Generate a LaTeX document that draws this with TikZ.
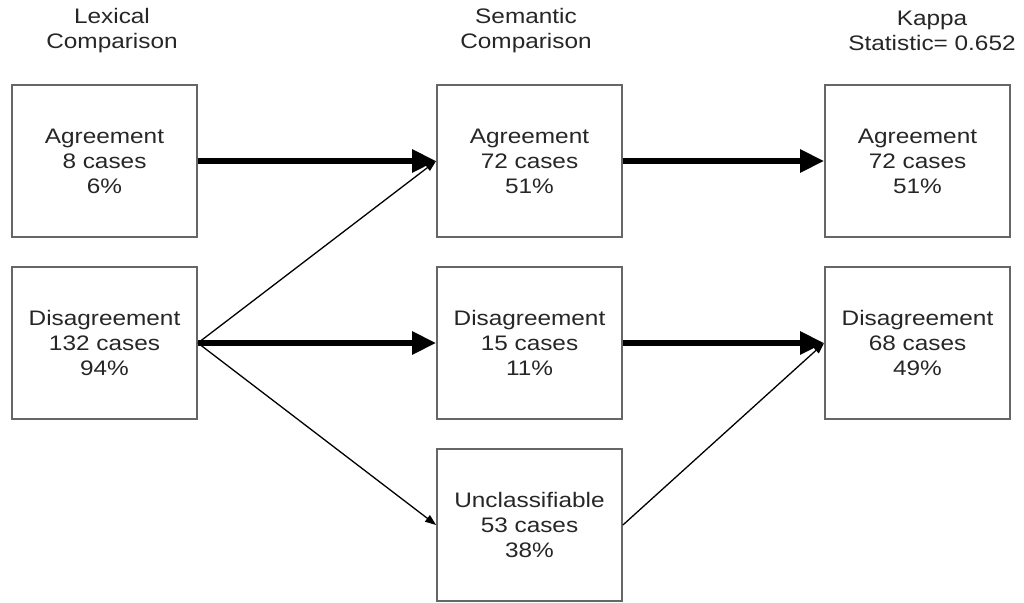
\documentclass[tikz,border=0pt]{standalone}
\usepackage{fontspec}
\setmainfont[FakeStretch=1.16]{Liberation Sans}
\usetikzlibrary{arrows.meta}
\begin{document}
\begin{tikzpicture}[x=1pt,y=-1pt,
  txt/.style={font=\fontsize{21}{25}\selectfont, text=black!85, align=center, inner sep=0pt},
  box/.style={txt, draw=black!60, line width=1.8pt, minimum width=185pt, minimum height=152pt},
  thick arrow/.style={line width=5.8pt, -{Triangle[length=24pt,width=22pt]}},
  thin arrow/.style={line width=1.3pt, -{Triangle[length=11pt,width=8pt]}},
  thin line/.style={line width=1.3pt}]
\useasboundingbox (0,0) rectangle (1024,602);
\node[txt] (h1) at (112,30.5) {Lexical\\Comparison};
\node[txt] (h2) at (526,30.5) {Semantic\\Comparison};
\node[txt] (h3) at (932,30.5) {Kappa\\Statistic= 0.652};
\node[box] (la) at (104.5,161) {Agreement\\8 cases\\6\%};
\node[box] (ld) at (104.5,343) {Disagreement\\132 cases\\94\%};
\node[box] (ma) at (529.5,161) {Agreement\\72 cases\\51\%};
\node[box] (md) at (529.5,343) {Disagreement\\15 cases\\11\%};
\node[box] (mu) at (529.5,525) {Unclassifiable\\53 cases\\38\%};
\node[box] (ra) at (917.5,161) {Agreement\\72 cases\\51\%};
\node[box] (rd) at (917.5,343) {Disagreement\\68 cases\\49\%};
\draw[thick arrow] (la.east) -- (ma.west);
\draw[thick arrow] (ld.east) -- (md.west);
\draw[thick arrow] (ma.east) -- (ra.west);
\draw[thick arrow] (md.east) -- (rd.west);
\draw[thin arrow] (ld.east) -- (ma.west);
\draw[thin arrow] (ld.east) -- (mu.west);
\draw[thin arrow] (mu.east) -- (rd.west);
\end{tikzpicture}
\end{document}
